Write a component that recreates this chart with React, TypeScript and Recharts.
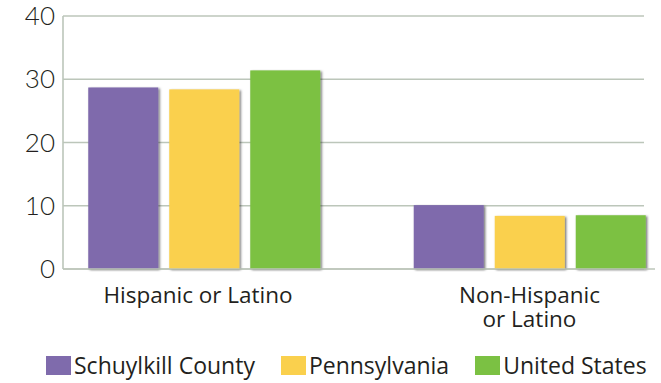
import { BarChart, Bar, XAxis, YAxis, CartesianGrid, Legend } from 'recharts';

const categories = ['Hispanic or Latino', 'Non-Hispanic\nor Latino'];
const schuylkill = [28.7, 10.1];
const pennsylvania = [28.4, 8.4];
const unitedStates = [31.4, 8.5];
const yTicks = [0, 10, 20, 30, 40];

const series = [
  { key: 'schuylkill', name: 'Schuylkill County', color: '#7f6bac' },
  { key: 'pennsylvania', name: 'Pennsylvania', color: '#fad04d' },
  { key: 'unitedStates', name: 'United States', color: '#7bc143' },
];

const data = categories.map((name, i) => ({
  pos: i,
  name,
  schuylkill: schuylkill[i],
  pennsylvania: pennsylvania[i],
  unitedStates: unitedStates[i],
}));

const GRID = '#bcc6ba';
const TEXT = '#231f20';
const labelFont = '"Open Sans", "Noto Sans", sans-serif';

const ShadowBar = (props: any) => {
  const { x, y, width, height, fill } = props;
  if (!height || height <= 0) return null;
  return <rect x={x} y={y} width={width} height={height} fill={fill} filter="url(#barShadow)" />;
};

const GridLine = (props: any) => {
  const { x1, x2, y1, y2 } = props;
  return <line x1={x1} x2={x2 - 11} y1={y1} y2={y2} stroke={GRID} strokeWidth={1.6} />;
};

const CategoryTick = (props: any) => {
  const { x, y, payload } = props;
  const idx = Math.round(payload.value);
  const lines = (categories[idx] || '').split('\n');
  const shift = idx === 0 ? -6 : 0; // label sits a touch left of the first group
  return (
    <g>
      {lines.map((line, i) => (
        <text
          key={i}
          x={x + shift}
          y={y + 34 + i * 24}
          textAnchor="middle"
          fill={TEXT}
          fontSize={22.5}
          fontFamily={labelFont}
        >
          {line}
        </text>
      ))}
    </g>
  );
};

const renderLegend = () => (
  <div
    style={{
      display: 'flex',
      alignItems: 'center',
      whiteSpace: 'nowrap',
      paddingLeft: 46,
      paddingTop: 3,
      fontFamily: labelFont,
      fontSize: 23,
      color: TEXT,
      lineHeight: '30px',
    }}
  >
    {series.map((s) => (
      <div key={s.key} style={{ display: 'flex', alignItems: 'center', flexShrink: 0, marginRight: 26 }}>
        <span style={{ display: 'inline-block', width: 25, height: 19, background: s.color, marginRight: 3 }} />
        <span>{s.name}</span>
      </div>
    ))}
  </div>
);

export default function App() {
  return (
    <div style={{ position: 'absolute', left: 0, top: 0, background: '#fff' }}>
      <BarChart
        width={661}
        height={383}
        data={data}
        margin={{ top: 16, right: 6, left: 0, bottom: 0 }}
        barSize={70}
        barGap={11}
      >
        <defs>
          <filter id="barShadow" x="-10%" y="-10%" width="130%" height="130%">
            <feDropShadow dx={1.5} dy={1} stdDeviation={1} floodColor="#000" floodOpacity={0.55} />
          </filter>
        </defs>
        <CartesianGrid vertical={false} horizontal={(p: any) => <GridLine {...p} />} />
        <XAxis
          dataKey="pos"
          type="number"
          domain={[-0.4332, 1.3856]}
          ticks={[0, 1]}
          axisLine={{ stroke: GRID, strokeWidth: 1.6 }}
          tickLine={false}
          tickSize={0}
          tickMargin={0}
          height={78}
          tick={<CategoryTick />}
          interval={0}
        />
        <YAxis
          domain={[0, 40]}
          ticks={yTicks}
          width={63}
          axisLine={{ stroke: GRID, strokeWidth: 1.6 }}
          tickLine={false}
          tick={{ fill: TEXT, fontSize: 26, fontFamily: 'Lato, sans-serif', fontWeight: 300 }}
        />
        <Legend verticalAlign="bottom" height={36} content={renderLegend} />
        {series.map((s) => (
          <Bar
            key={s.key}
            dataKey={s.key}
            name={s.name}
            fill={s.color}
            shape={<ShadowBar />}
            isAnimationActive={false}
          />
        ))}
      </BarChart>
    </div>
  );
}
